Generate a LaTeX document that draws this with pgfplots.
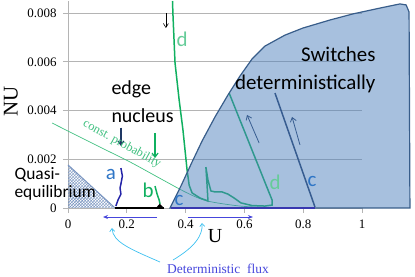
\documentclass[border=0pt]{standalone}
\usepackage{pgfplots}
\pgfplotsset{compat=1.18}
\usepackage{fontspec}
\setmainfont{Liberation Serif}
\newfontfamily\calfont{Carlito}
\usetikzlibrary{patterns,arrows.meta}
\definecolor{gridc}{HTML}{B4B4B4}
\definecolor{regfill}{HTML}{4F81BD}
\definecolor{regedge}{HTML}{385D8A}
\definecolor{dgreen}{HTML}{10B060}
\definecolor{lgreen}{HTML}{66CC99}
\definecolor{navy}{HTML}{1F3864}
\definecolor{ablue}{HTML}{2424A8}
\definecolor{labblue}{HTML}{2E75C6}
\definecolor{flux}{HTML}{4646DC}
\definecolor{cyanc}{HTML}{3CC0F0}
\definecolor{hatch}{HTML}{7A95C0}
\begin{document}
\begin{tikzpicture}
\useasboundingbox (0,0) rectangle (415bp,277bp);
\begin{axis}[at={(68bp,69bp)}, anchor=south west, scale only axis,
  width=344bp, height=207bp,
  xmin=0, xmax=1.17, ymin=0, ymax=0.0085, clip=false,
  axis line style={draw=none},
  xtick={0,0.2,0.4,0.6,0.8,1}, xticklabels={0,0.2,0.4,0.6,0.8,1},
  ytick={0,0.002,0.004,0.006,0.008}, yticklabels={0,0.002,0.004,0.006,0.008},
  xtick pos=bottom, ytick pos=left, tick align=outside,
  major tick length=5bp, tick style={gridc, line width=0.8pt},
  ticklabel style={font=\fontsize{13}{13}\selectfont},
  xticklabel style={yshift=-3bp},
  yticklabel style={xshift=-3bp},
  scaled y ticks=false,
  /pgf/number format/assume math mode=true,
]
% grid and axis lines
\draw[gridc, line width=0.8pt] (axis cs:0,0.002) -- (axis cs:1,0.002);
\draw[gridc, line width=0.8pt] (axis cs:0,0.004) -- (axis cs:1,0.004);
\draw[gridc, line width=0.8pt] (axis cs:0,0.006) -- (axis cs:1,0.006);
\draw[gridc, line width=0.8pt] (axis cs:0,0.008) -- (axis cs:1,0.008);
\draw[gridc, line width=0.8pt] (axis cs:0,0) -- (axis cs:1,0);
\draw[gridc, line width=0.8pt] (axis cs:0,0) -- (axis cs:0,0.0085);
% quasi-equilibrium hatched triangle
\addplot[draw=none, pattern=crosshatch, pattern color=hatch] coordinates {(0,0) (0,0.00177) (0.16,0)} -- cycle;
\addplot[color=hatch, line width=1pt] coordinates {(0,0.00177) (0.16,0)};
% constant probability line
\addplot[dgreen!80, line width=0.7pt, smooth] coordinates {
(-0.054,0.00349) (0,0.00316) (0.109,0.0025) (0.211,0.00189) (0.323,0.00115)
(0.405,0.00062) (0.473,0.00029) (0.585,0.00008) (0.687,0.00002)};
% curve a
\addplot[ablue, line width=1.5pt] coordinates {
(0.180,0.00164) (0.185,0.00131) (0.180,0.00099) (0.177,0.00082) (0.180,0.00057) (0.170,0.00033) (0.163,0.00008)};
% curve b
\addplot[dgreen, line width=1.5pt] coordinates {
(0.296,0.0009) (0.303,0.00057) (0.310,0.00033) (0.313,0.00016)};
% black bottom line
\addplot[black, line width=2pt] coordinates {(0.16,0) (0.325,0)};
\addplot[black, fill=black] coordinates {(0.300,0) (0.312,0.00016) (0.325,0)} -- cycle;
% curve d
\addplot[dgreen, line width=1.5pt] coordinates {
(0.3554,0.0085) (0.357,0.00793) (0.364,0.00596) (0.378,0.00444) (0.391,0.0032)
(0.398,0.00238) (0.405,0.00156) (0.412,0.00094) (0.422,0.00062) (0.449,0.00041)
(0.476,0.00029) (0.473,0.00094) (0.469,0.00168) (0.476,0.00115) (0.486,0.0007)
(0.5,0.00066) (0.524,0.00066) (0.544,0.00057) (0.565,0.00041) (0.588,0.00021)
(0.626,0.0001) (0.670,0.00008) (0.694,0.00012) (0.694,0.00033) (0.548,0.00472)};
% curve c
\addplot[navy, line width=1.5pt] coordinates {(0.704,0.00472) (0.840,0.00004)};
% arrows
\draw[black, line width=0.6pt, -{Straight Barb[length=4bp,width=5bp]}] (axis cs:0.333,0.0080) -- (axis cs:0.333,0.00739);
\draw[navy, line width=1.2pt, -{Straight Barb[length=4bp,width=6bp]}] (axis cs:0.180,0.0033) -- (axis cs:0.180,0.00255);
\draw[dgreen, line width=1.2pt, -{Straight Barb[length=4bp,width=6bp]}] (axis cs:0.296,0.00308) -- (axis cs:0.296,0.00205);
\draw[navy, line width=0.8pt, -{Straight Barb[length=4bp,width=6bp]}] (axis cs:0.650,0.00267) -- (axis cs:0.609,0.00382);
\draw[navy, line width=0.8pt, -{Straight Barb[length=4bp,width=6bp]}] (axis cs:0.789,0.00259) -- (axis cs:0.762,0.00374);
% deterministic switching region
\addplot[draw=regedge, line width=1.2pt, fill=regfill, fill opacity=0.5] coordinates {
(0.347,0) (0.384,0.0009) (0.422,0.00189) (0.456,0.00275) (0.5,0.00374)
(0.544,0.00464) (0.585,0.00542) (0.626,0.00612) (0.670,0.00665) (0.738,0.0071)
(0.799,0.00739) (0.891,0.00772) (0.969,0.00797) (1.061,0.00821) (1.129,0.00838)
(1.150,0.00834) (1.160,0.00805) (1.163,0)} -- cycle;
% blue bottom line
\addplot[flux!80!black, line width=1.5pt] coordinates {(0.35,0) (0.84,0)};
% deterministic flux arrows
\draw[flux, line width=1pt, -{Stealth[length=5bp,width=4bp]}] (axis cs:0.303,-0.00037) -- (axis cs:0.119,-0.00037);
\draw[flux, line width=1pt, -{Stealth[length=5bp,width=4bp]}] (axis cs:0.408,-0.00037) -- (axis cs:0.629,-0.00037);
\end{axis}
% text
\node[rotate=90, font=\fontsize{21}{21}\selectfont] at (11bp,176bp) {NU};
\node[font=\fontsize{20}{20}\selectfont] at (215bp,41bp) {U};
\node[flux, font=\fontsize{13.5}{13.5}\selectfont] at (218bp,8bp) {Deterministic\ \ flux};
\draw[cyanc, line width=0.7pt, -{Straight Barb[length=3bp,width=5bp]}] (160bp,15bp) .. controls (130bp,28bp) and (113bp,35bp) .. (112bp,49bp);
\draw[cyanc, line width=0.7pt, -{Straight Barb[length=3bp,width=5bp]}] (173bp,17bp) .. controls (195bp,30bp) and (203bp,42bp) .. (202bp,54bp);
\node[anchor=base west, font=\calfont\fontsize{20}{20}\selectfont] at (108bp,182bp) {edge};
\node[anchor=base west, font=\calfont\fontsize{20}{20}\selectfont] at (108bp,154bp) {nucleus};
\node[anchor=base east, font=\calfont\fontsize{21}{21}\selectfont] at (379bp,215bp) {Switches};
\node[anchor=base east, font=\calfont\fontsize{21}{21}\selectfont] at (379bp,187bp) {deterministically};
\node[anchor=base west, font=\calfont\fontsize{17.5}{17.5}\selectfont] at (11bp,97bp) {Quasi-};
\node[anchor=base west, font=\calfont\fontsize{17.5}{17.5}\selectfont] at (11bp,79bp) {equilibrium};
\node[labblue, font=\calfont\fontsize{21}{21}\selectfont] at (111bp,103bp) {a};
\node[dgreen, font=\calfont\fontsize{21}{21}\selectfont] at (148bp,87bp) {b};
\node[labblue, font=\calfont\fontsize{21}{21}\selectfont] at (179bp,77bp) {c};
\node[labblue, font=\calfont\fontsize{21}{21}\selectfont] at (312bp,95bp) {c};
\node[lgreen, font=\calfont\fontsize{21}{21}\selectfont] at (275bp,95bp) {d};
\node[lgreen, font=\calfont\fontsize{21}{21}\selectfont] at (182bp,238bp) {d};
\node[dgreen!80, rotate=-29, font=\fontsize{12.5}{12.5}\selectfont] at (122bp,133bp) {const.\ probability};
\end{tikzpicture}
\end{document}
